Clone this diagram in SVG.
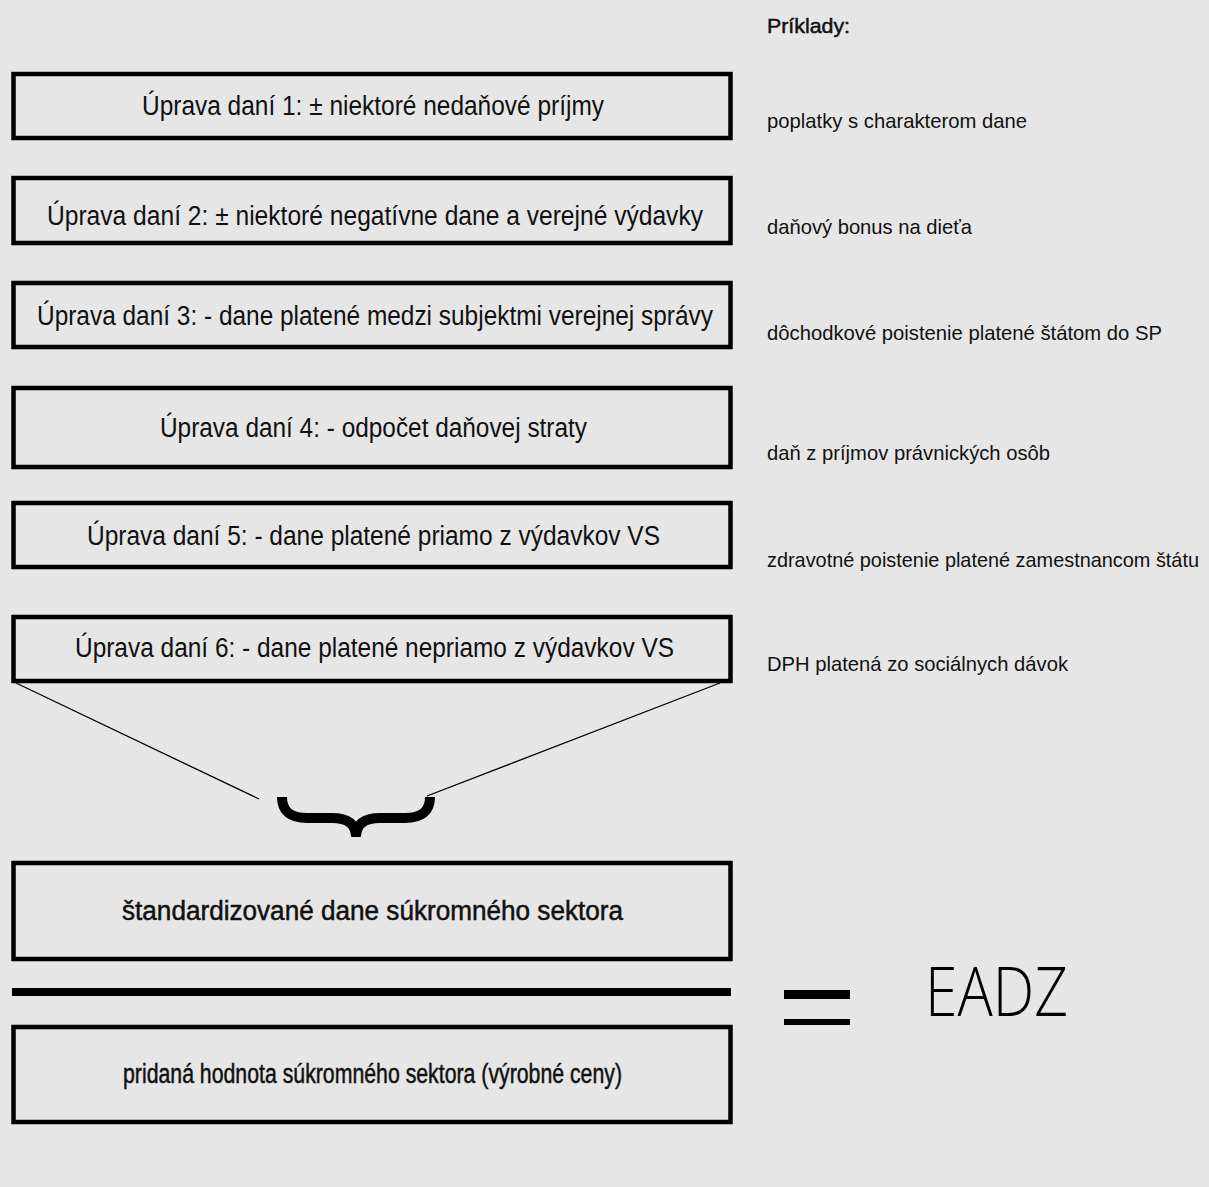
<svg xmlns="http://www.w3.org/2000/svg" width="1209" height="1187" viewBox="0 0 1209 1187">
<style>
.bg{fill:#e6e6e6}
.box{fill:none;stroke:#000;stroke-width:4.5}
.t{font-family:"Liberation Sans","Arial",sans-serif;font-size:27px;fill:#111}
.b{stroke:#111;stroke-width:0.5}
.ex{font-family:"Liberation Sans","Arial",sans-serif;font-size:21px;fill:#111}
.ln{stroke:#000;stroke-width:1.3;fill:none}
</style>
<rect class="bg" x="0" y="0" width="1209" height="1187"/>
<g id="connectors">
<line class="ln" x1="16" y1="683" x2="259" y2="799"/>
<line class="ln" x1="720" y1="683" x2="427" y2="796"/>
<path d="M282 797 Q282 818 307 818 L332 818 Q356 818 356 837 Q356 818 380 818 L405 818 Q430 818 430 797" fill="none" stroke="#000" stroke-width="10"/>
</g>
<g id="n1"><rect class="box" x="13.5" y="74" width="717" height="64"/><text class="t" x="142" y="115" textLength="462" lengthAdjust="spacingAndGlyphs">Úprava daní 1: ± niektoré nedaňové príjmy</text></g>
<g id="n2"><rect class="box" x="13.5" y="178" width="717" height="65"/><text class="t" x="47" y="225" textLength="656" lengthAdjust="spacingAndGlyphs">Úprava daní 2: ± niektoré negatívne dane a verejné výdavky</text></g>
<g id="n3"><rect class="box" x="13.5" y="283" width="717" height="64"/><text class="t" x="37" y="325" textLength="676" lengthAdjust="spacingAndGlyphs">Úprava daní 3: - dane platené medzi subjektmi verejnej správy</text></g>
<g id="n4"><rect class="box" x="13.5" y="388" width="717" height="79"/><text class="t" x="160" y="437" textLength="427" lengthAdjust="spacingAndGlyphs">Úprava daní 4: - odpočet daňovej straty</text></g>
<g id="n5"><rect class="box" x="13.5" y="503" width="717" height="64"/><text class="t" x="87" y="545" textLength="573" lengthAdjust="spacingAndGlyphs">Úprava daní 5: - dane platené priamo z výdavkov VS</text></g>
<g id="n6"><rect class="box" x="13.5" y="617" width="717" height="64"/><text class="t" x="75" y="657" textLength="599" lengthAdjust="spacingAndGlyphs">Úprava daní 6: - dane platené nepriamo z výdavkov VS</text></g>
<g id="n7"><rect class="box" x="13.5" y="863" width="717" height="96"/><text class="t b" x="122" y="920" textLength="501" lengthAdjust="spacingAndGlyphs">štandardizované dane súkromného sektora</text></g>
<g id="divider"><rect x="12" y="988" width="719" height="8" fill="#000"/></g>
<g id="n8"><rect class="box" x="13.5" y="1027" width="717" height="95"/><text class="t b" x="123" y="1083" font-size="26" textLength="499" lengthAdjust="spacingAndGlyphs">pridaná hodnota súkromného sektora (výrobné ceny)</text></g>
<g id="equals"><rect x="784" y="990" width="66" height="9" fill="#000"/><rect x="784" y="1019" width="66" height="6" fill="#000"/></g>
<g id="eadz"><text x="925" y="1016" font-family="'Open Sans','DejaVu Sans',sans-serif" font-weight="300" font-size="68" fill="#000" textLength="143" lengthAdjust="spacingAndGlyphs">EADZ</text></g>
<g id="examples">
<text class="ex b" x="767" y="33" textLength="83" lengthAdjust="spacingAndGlyphs">Príklady:</text>
<text class="ex" x="767" y="128" textLength="260" lengthAdjust="spacingAndGlyphs">poplatky s charakterom dane</text>
<text class="ex" x="767" y="234" textLength="205" lengthAdjust="spacingAndGlyphs">daňový bonus na dieťa</text>
<text class="ex" x="767" y="340" textLength="395" lengthAdjust="spacingAndGlyphs">dôchodkové poistenie platené štátom do SP</text>
<text class="ex" x="767" y="460" textLength="283" lengthAdjust="spacingAndGlyphs">daň z príjmov právnických osôb</text>
<text class="ex" x="767" y="567" textLength="432" lengthAdjust="spacingAndGlyphs">zdravotné poistenie platené zamestnancom štátu</text>
<text class="ex" x="767" y="671" textLength="301" lengthAdjust="spacingAndGlyphs">DPH platená zo sociálnych dávok</text>
</g>
</svg>
